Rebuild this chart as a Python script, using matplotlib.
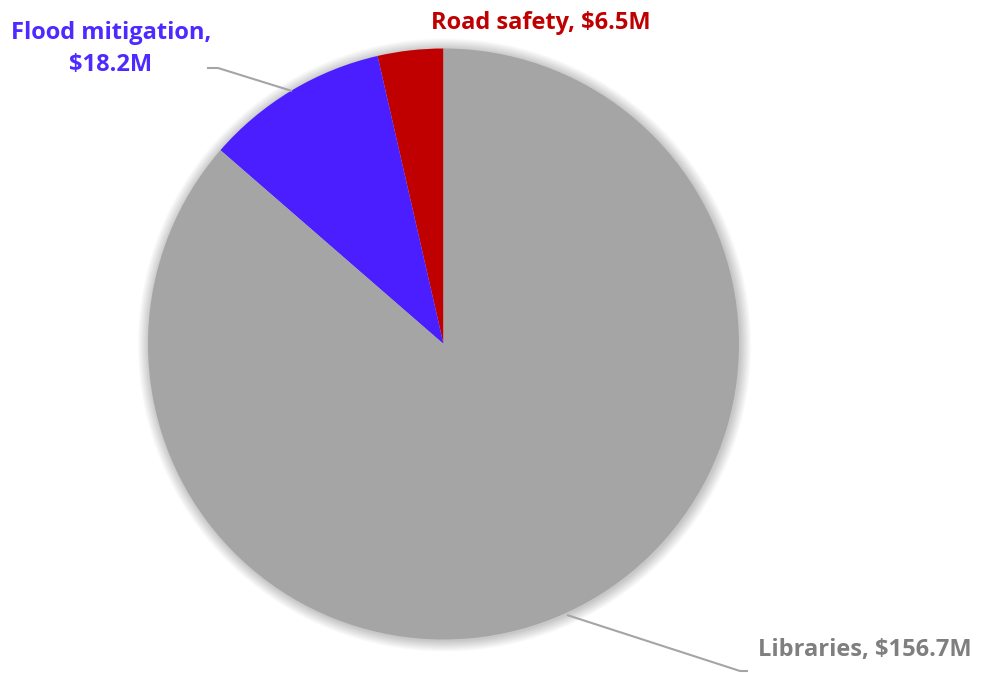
import matplotlib
matplotlib.use("Agg")
import matplotlib.pyplot as plt
from matplotlib.patches import Circle

categories = ["Road safety", "Flood mitigation", "Libraries"]
values = [6.5, 18.2, 156.7]
labels = ["Road safety, $6.5M", "Flood mitigation,\n$18.2M", "Libraries, $156.7M"]
colors = ["#C00000", "#4A1EFF", "#A5A5A5"]
text_colors = ["#C00000", "#4B2BFF", "#7F7F7F"]

W, H = 981, 673
fig = plt.figure(figsize=(W / 100, H / 100), dpi=100)
ax = fig.add_axes([0, 0, 1, 1])
ax.set_xlim(0, W)
ax.set_ylim(0, H)
ax.set_aspect("equal")
ax.axis("off")

cx, cy, r = 443.5, H - 344, 295.5

# soft shadow / glow
for i in range(14, 0, -1):
    ax.add_patch(Circle((cx + 1, cy - 1), r + i * 0.8, color="black", alpha=0.014, lw=0, zorder=1))

wedges, _ = ax.pie(values, colors=colors, startangle=90, counterclock=True,
                   center=(cx, cy), radius=r, frame=True,
                   wedgeprops=dict(linewidth=0, zorder=2))
for w in wedges:
    w.set_zorder(2)
ax.set_xlim(0, W)
ax.set_ylim(0, H)
ax.axis("off")

font = ["Open Sans", "DejaVu Sans"]
fs = 17
ax.text(541, H - 23, labels[0], color=text_colors[0], fontsize=fs, fontweight="bold",
        family=font, ha="center", va="center", zorder=5)
ax.text(111, H - 49, labels[1], color=text_colors[1], fontsize=fs, fontweight="bold",
        family=font, ha="center", va="center", linespacing=1.45, zorder=5)
ax.text(865, H - 650, labels[2], color=text_colors[2], fontsize=fs, fontweight="bold",
        family=font, ha="center", va="center", zorder=5)

# leader lines
ax.plot([207, 218, 292], [H - 68, H - 68, H - 91], color="#A5A5A5", lw=1.5, zorder=3,
        solid_capstyle="butt")
ax.plot([567, 740, 748], [H - 615, H - 671, H - 671], color="#A5A5A5", lw=1.5, zorder=3,
        solid_capstyle="butt")

fig.savefig("out.png", dpi=100)
